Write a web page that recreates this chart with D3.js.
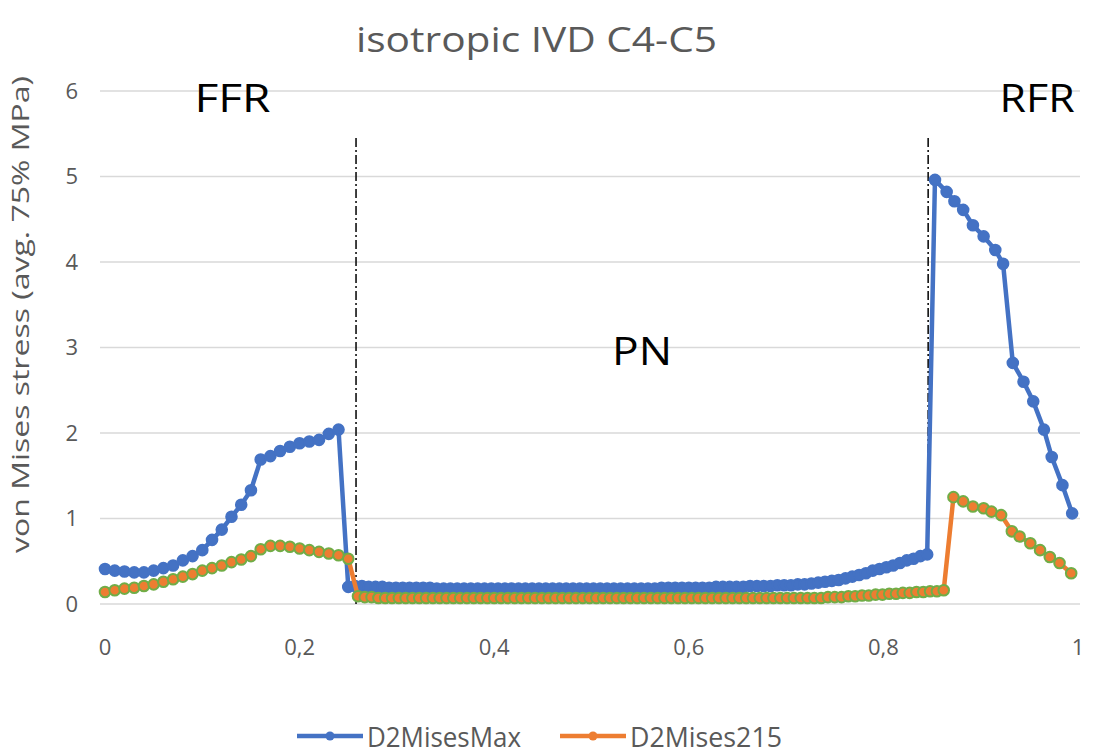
<!DOCTYPE html>
<html>
<head>
<meta charset="utf-8">
<script src="https://cdn.jsdelivr.net/npm/d3@7"></script>
<style>
	body { margin: 0; background: #fff; }
	svg { display: block; font-family: "Open Sans", sans-serif; }
	.grid line { stroke: #d9d9d9; stroke-width: 1.3; }
	.tick-label { fill: #595959; font-size: 22px; }
</style>
</head>
<body>
<svg id="chart" width="1094" height="756"></svg>
<script>
// D2MisesMax: distance along path and stress values
const maxDist = [
	0.00, 0.01, 0.02, 0.03, 0.04, 0.05, 0.06, 0.07, 0.08, 0.09,
	0.10, 0.11, 0.12, 0.13, 0.14, 0.15, 0.16, 0.17, 0.18, 0.19,
	0.20, 0.21, 0.22, 0.23, 0.24, 0.25,
	0.257, 0.264, 0.271, 0.278, 0.285, 0.292, 0.299, 0.306, 0.313, 0.320,
	0.327, 0.334, 0.341, 0.348, 0.355, 0.362, 0.369, 0.376, 0.383, 0.390,
	0.397, 0.404, 0.411, 0.418, 0.425, 0.432, 0.439, 0.446, 0.453, 0.460,
	0.467, 0.474, 0.481, 0.488, 0.495, 0.502, 0.509, 0.516, 0.523, 0.530,
	0.537, 0.544, 0.551, 0.558, 0.565, 0.572, 0.579, 0.586, 0.593, 0.600,
	0.607, 0.614, 0.621, 0.628, 0.635, 0.642, 0.649, 0.656, 0.663, 0.670,
	0.677, 0.684, 0.691, 0.698, 0.705, 0.712, 0.719, 0.726, 0.733, 0.740,
	0.747, 0.754, 0.761, 0.768, 0.775, 0.782, 0.789, 0.796, 0.803, 0.810,
	0.817, 0.824, 0.831, 0.838, 0.845,
	0.853, 0.865, 0.873, 0.882, 0.892, 0.903, 0.915, 0.923, 0.933, 0.944,
	0.954, 0.965, 0.973, 0.984, 0.994
];
const maxValues = [
	0.41, 0.39, 0.38, 0.37, 0.37, 0.39, 0.42, 0.45, 0.51, 0.56,
	0.63, 0.75, 0.87, 1.02, 1.16, 1.33, 1.69, 1.73, 1.79, 1.84,
	1.88, 1.90, 1.92, 1.99, 2.04, 0.20,
	0.21, 0.21, 0.20, 0.20, 0.20, 0.19, 0.19, 0.19, 0.19, 0.19,
	0.19, 0.19, 0.18, 0.18, 0.18, 0.18, 0.18, 0.18, 0.18, 0.18,
	0.18, 0.18, 0.18, 0.18, 0.18, 0.18, 0.18, 0.18, 0.18, 0.18,
	0.18, 0.18, 0.18, 0.18, 0.18, 0.18, 0.18, 0.18, 0.18, 0.18,
	0.18, 0.18, 0.18, 0.18, 0.18, 0.19, 0.19, 0.19, 0.19, 0.19,
	0.19, 0.19, 0.19, 0.20, 0.20, 0.20, 0.20, 0.20, 0.21, 0.21,
	0.21, 0.21, 0.22, 0.22, 0.22, 0.23, 0.23, 0.24, 0.25, 0.26,
	0.27, 0.28, 0.30, 0.32, 0.34, 0.36, 0.39, 0.41, 0.43, 0.45,
	0.48, 0.51, 0.53, 0.56, 0.58,
	4.96, 4.82, 4.71, 4.61, 4.43, 4.30, 4.14, 3.98, 2.82, 2.60,
	2.37, 2.04, 1.72, 1.39, 1.06
];

// D2Mises215
const m215Dist = [
	0.00, 0.01, 0.02, 0.03, 0.04, 0.05, 0.06, 0.07, 0.08, 0.09,
	0.10, 0.11, 0.12, 0.13, 0.14, 0.15, 0.16, 0.17, 0.18, 0.19,
	0.20, 0.21, 0.22, 0.23, 0.24, 0.25,
	0.260, 0.267, 0.274, 0.281, 0.288, 0.295, 0.302, 0.309, 0.316, 0.323,
	0.330, 0.337, 0.344, 0.351, 0.358, 0.365, 0.372, 0.379, 0.386, 0.393,
	0.400, 0.407, 0.414, 0.421, 0.428, 0.435, 0.442, 0.449, 0.456, 0.463,
	0.470, 0.477, 0.484, 0.491, 0.498, 0.505, 0.512, 0.519, 0.526, 0.533,
	0.540, 0.547, 0.554, 0.561, 0.568, 0.575, 0.582, 0.589, 0.596, 0.603,
	0.610, 0.617, 0.624, 0.631, 0.638, 0.645, 0.652, 0.659, 0.666, 0.673,
	0.680, 0.687, 0.694, 0.701, 0.708, 0.715, 0.722, 0.729, 0.736, 0.743,
	0.750, 0.757, 0.764, 0.771, 0.778, 0.785, 0.792, 0.799, 0.806, 0.813,
	0.820, 0.827, 0.834, 0.841, 0.848, 0.855, 0.862,
	0.872, 0.882, 0.892, 0.903, 0.911, 0.921, 0.932, 0.940, 0.951, 0.961,
	0.971, 0.981, 0.993
];
const m215Values = [
	0.14, 0.16, 0.18, 0.19, 0.21, 0.23, 0.26, 0.29, 0.32, 0.35,
	0.39, 0.42, 0.45, 0.49, 0.52, 0.56, 0.64, 0.68, 0.68, 0.67,
	0.65, 0.63, 0.61, 0.59, 0.57, 0.53,
	0.09, 0.08, 0.08, 0.07, 0.07, 0.07, 0.07, 0.07, 0.07, 0.07,
	0.07, 0.07, 0.07, 0.07, 0.07, 0.07, 0.07, 0.07, 0.07, 0.07,
	0.07, 0.07, 0.07, 0.07, 0.07, 0.07, 0.07, 0.07, 0.07, 0.07,
	0.07, 0.07, 0.07, 0.07, 0.07, 0.07, 0.07, 0.07, 0.07, 0.07,
	0.07, 0.07, 0.07, 0.07, 0.07, 0.07, 0.07, 0.07, 0.07, 0.07,
	0.07, 0.07, 0.07, 0.07, 0.07, 0.07, 0.07, 0.07, 0.07, 0.07,
	0.07, 0.07, 0.07, 0.07, 0.07, 0.07, 0.07, 0.07, 0.07, 0.08,
	0.08, 0.08, 0.09, 0.09, 0.10, 0.10, 0.11, 0.11, 0.12, 0.12,
	0.13, 0.13, 0.14, 0.14, 0.15, 0.15, 0.16,
	1.25, 1.20, 1.14, 1.12, 1.08, 1.04, 0.85, 0.79, 0.71, 0.63,
	0.55, 0.48, 0.36
];

const yTicks = [0, 1, 2, 3, 4, 5, 6];
const xTicks = [0, 0.2, 0.4, 0.6, 0.8, 1];
const xTickLabels = ["0", "0,2", "0,4", "0,6", "0,8", "1"];

// region dividers (dash-dot lines) and region names
const dividerX = [0.258, 0.846];
const dividerBottom = [0, 0.57];
const dividerTop = 5.45;
const regionNames = ["FFR", "PN", "RFR"];
const regionX = [0.131, 0.552, 0.958];
const regionY = [5.75, 2.8, 5.75];

const seriesNames = ["D2MisesMax", "D2Mises215"];

const svg = d3.select("#chart");

const x = d3.scaleLinear().domain([0, 1]).range([105, 1078]);
const y = d3.scaleLinear().domain([0, 6]).range([604, 91]);

// gridlines
svg.append("g")
	.attr("class", "grid")
	.selectAll("line")
	.data(yTicks)
	.join("line")
	.attr("x1", 100)
	.attr("x2", 1080)
	.attr("y1", d => y(d))
	.attr("y2", d => y(d));

// y axis labels
svg.append("g")
	.selectAll("text")
	.data(yTicks)
	.join("text")
	.attr("class", "tick-label")
	.attr("x", 78)
	.attr("y", d => y(d))
	.attr("dy", "0.35em")
	.attr("text-anchor", "end")
	.text(d => d);

// x axis labels
svg.append("g")
	.selectAll("text")
	.data(xTicks)
	.join("text")
	.attr("class", "tick-label")
	.attr("x", d => x(d))
	.attr("y", 655)
	.attr("text-anchor", "middle")
	.text((d, i) => xTickLabels[i]);

// title
svg.append("text")
	.attr("x", 356)
	.attr("y", 52)
	.attr("fill", "#595959")
	.attr("textLength", 361)
	.attr("lengthAdjust", "spacingAndGlyphs")
	.style("font-size", "35px")
	.text("isotropic IVD C4-C5");

// y axis title
svg.append("text")
	.attr("transform", "translate(29,553) rotate(-90)")
	.attr("fill", "#595959")
	.attr("textLength", 477)
	.attr("lengthAdjust", "spacingAndGlyphs")
	.style("font-size", "24px")
	.text("von Mises stress (avg. 75% MPa)");

// dash-dot dividers
svg.append("g")
	.selectAll("line")
	.data(dividerX)
	.join("line")
	.attr("x1", d => x(d))
	.attr("x2", d => x(d))
	.attr("y1", y(dividerTop))
	.attr("y2", (d, i) => y(dividerBottom[i]))
	.attr("stroke", "#111")
	.attr("stroke-width", 1.6)
	.attr("stroke-dasharray", "9,3,2,3");

const line = d3.line()
	.x(d => x(d[0]))
	.y(d => y(d[1]));

const series = [
	{ pts: d3.zip(maxDist, maxValues), color: "#4472C4", marker: "#4472C4", edge: "#4472C4" },
	{ pts: d3.zip(m215Dist, m215Values), color: "#ED7D31", marker: "#ED7D31", edge: "#70AD47" }
];

series.forEach(s => {
	const g = svg.append("g");
	g.append("path")
		.datum(s.pts)
		.attr("d", line)
		.attr("fill", "none")
		.attr("stroke", s.color)
		.attr("stroke-width", 4.5)
		.attr("stroke-linejoin", "round");
	g.selectAll("circle")
		.data(s.pts)
		.join("circle")
		.attr("cx", d => x(d[0]))
		.attr("cy", d => y(d[1]))
		.attr("r", 5.3)
		.attr("fill", s.marker)
		.attr("stroke", s.edge)
		.attr("stroke-width", 2);
});

// region labels
const regionWidths = [76, 60, 75];
svg.append("g")
	.selectAll("text")
	.data(regionNames)
	.join("text")
	.attr("x", (d, i) => x(regionX[i]))
	.attr("y", (d, i) => y(regionY[i]))
	.attr("text-anchor", "middle")
	.attr("fill", "#000")
	.attr("textLength", (d, i) => regionWidths[i])
	.attr("lengthAdjust", "spacingAndGlyphs")
	.style("font-size", "39px")
	.text(d => d);

// legend
const legendX = [297, 560];
const legend = svg.append("g")
	.selectAll("g")
	.data(seriesNames)
	.join("g")
	.attr("transform", (d, i) => `translate(${legendX[i]},736)`);
legend.append("line")
	.attr("x1", 0).attr("x2", 66)
	.attr("stroke", (d, i) => series[i].color)
	.attr("stroke-width", 4.5);
legend.append("circle")
	.attr("cx", 33)
	.attr("r", 4.5)
	.attr("fill", (d, i) => series[i].color);
legend.append("text")
	.attr("x", 70)
	.attr("y", 11)
	.attr("fill", "#595959")
	.attr("textLength", (d, i) => [154, 152][i])
	.attr("lengthAdjust", "spacingAndGlyphs")
	.style("font-size", "27px")
	.text(d => d);
</script>
</body>
</html>
